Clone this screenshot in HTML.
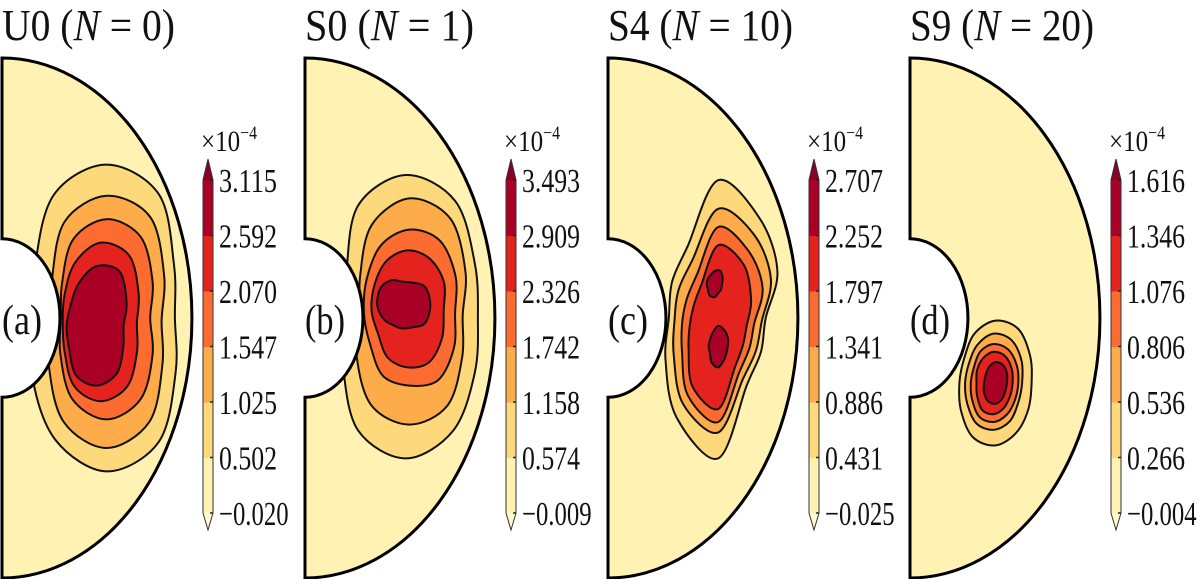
<!DOCTYPE html>
<html><head><meta charset="utf-8"><style>
html,body{margin:0;padding:0;background:#fff;}
svg{display:block;}
text{font-family:"Liberation Serif","Times New Roman","DejaVu Serif",serif;fill:#111;}
</style></head><body>
<svg id="fig" width="1200" height="579" viewBox="0 0 1200 579" xmlns="http://www.w3.org/2000/svg"></svg>
<script>
// ---- data ----
const panelIds = ["U0","S0","S4","S9"];
const panelN = ["0","1","10","20"];
const panelLetters = ["(a)","(b)","(c)","(d)"];
const tickLabelsA = ["\u22120.020","0.502","1.025","1.547","2.070","2.592","3.115"];
const tickLabelsB = ["\u22120.009","0.574","1.158","1.742","2.326","2.909","3.493"];
const tickLabelsC = ["\u22120.025","0.431","0.886","1.341","1.797","2.252","2.707"];
const tickLabelsD = ["\u22120.004","0.266","0.536","0.806","1.076","1.346","1.616"];
// contour polygons: level index, center [s, z] and radii at 0,30,...,330 degrees (data units)
const contourLevelsA = [1,2,3,4,5];
const contourCentersA = [[0.55,0.0],[0.55,-0.01],[0.55,0.0],[0.52,-0.02],[0.50,-0.03]];
const contourRadiiA = [
 [0.36,0.41,0.55,0.59,0.55,0.43,0.37,0.45,0.54,0.59,0.55,0.42],
 [0.29,0.35,0.46,0.48,0.44,0.33,0.29,0.35,0.45,0.49,0.45,0.34],
 [0.23,0.28,0.36,0.38,0.35,0.27,0.24,0.28,0.36,0.39,0.36,0.28],
 [0.19,0.23,0.30,0.31,0.27,0.22,0.20,0.22,0.28,0.30,0.28,0.22],
 [0.14,0.18,0.24,0.23,0.19,0.16,0.16,0.17,0.22,0.23,0.21,0.16]];
const contourLevelsB = [1,2,3,4,5];
const contourCentersB = [[0.53,0.0],[0.55,0.01],[0.55,0.02],[0.54,0.03],[0.51,0.05]];
const contourRadiiB = [
 [0.38,0.42,0.52,0.55,0.50,0.36,0.32,0.38,0.50,0.54,0.50,0.42],
 [0.28,0.34,0.43,0.45,0.40,0.30,0.26,0.32,0.40,0.42,0.40,0.32],
 [0.24,0.28,0.32,0.32,0.30,0.26,0.24,0.24,0.28,0.28,0.30,0.27],
 [0.19,0.22,0.23,0.23,0.22,0.20,0.19,0.18,0.21,0.22,0.23,0.21],
 [0.15,0.14,0.10,0.09,0.11,0.13,0.13,0.11,0.09,0.09,0.10,0.14]];
const contourLevelsC = [1,2,3,4,5,5];
const contourCentersC = [[0.58,0.0],[0.58,-0.01],[0.58,-0.02],[0.58,-0.03],[0.56,0.13],[0.58,-0.11]];
const contourRadiiC = [
 [0.25,0.36,0.44,0.53,0.32,0.28,0.26,0.32,0.44,0.54,0.30,0.26],
 [0.23,0.32,0.38,0.43,0.27,0.24,0.23,0.27,0.37,0.43,0.26,0.23],
 [0.19,0.27,0.32,0.37,0.22,0.19,0.19,0.22,0.32,0.38,0.22,0.19],
 [0.15,0.20,0.27,0.31,0.18,0.15,0.15,0.18,0.27,0.32,0.18,0.15],
 [0.04,0.05,0.06,0.05,0.04,0.04,0.04,0.04,0.05,0.05,0.04,0.04],
 [0.05,0.06,0.07,0.08,0.06,0.05,0.05,0.05,0.07,0.08,0.06,0.05]];
const contourLevelsD = [1,2,3,4,5];
const contourCentersD = [[0.45,-0.25],[0.44,-0.25],[0.44,-0.25],[0.44,-0.25],[0.45,-0.25]];
const contourRadiiD = [
 [0.19,0.21,0.24,0.24,0.22,0.19,0.19,0.21,0.24,0.24,0.22,0.20],
 [0.15,0.17,0.19,0.19,0.17,0.15,0.15,0.16,0.18,0.18,0.17,0.15],
 [0.13,0.14,0.15,0.15,0.14,0.12,0.12,0.13,0.15,0.15,0.14,0.13],
 [0.10,0.11,0.12,0.12,0.11,0.10,0.09,0.10,0.12,0.12,0.11,0.10],
 [0.06,0.07,0.08,0.08,0.07,0.06,0.06,0.07,0.08,0.08,0.07,0.06]];
const innerRadius = 0.305;

// ---- style / layout ----
const bandColors = ["#fff2b3","#fed97c","#feab4a","#fc6c31","#e4221e","#ab0026"];
const topTriColor = "#8a0026", botTriColor = "#fffbd0";
const panelLeft = [2,305,608,910];
const titleWidth = [173,169,185,184];
const FONT = '"Liberation Serif","Times New Roman","DejaVu Serif",serif';
const CY = 318, RX = 190, RY = 260;
const NS = "http://www.w3.org/2000/svg";
const svg = document.getElementById('fig');
function el(tag, attrs, parent){const e=document.createElementNS(NS,tag);for(const k in attrs)e.setAttribute(k,attrs[k]);(parent||svg).appendChild(e);return e;}
function sx(L,s){return L+s*RX;}
function sz(z){return CY-z*RY;}
function smoothPath(pts){
  const n=pts.length;let d=`M${pts[0][0].toFixed(1)},${pts[0][1].toFixed(1)}`;
  for(let i=0;i<n;i++){const p0=pts[(i-1+n)%n],p1=pts[i],p2=pts[(i+1)%n],p3=pts[(i+2)%n];
    const c1=[p1[0]+(p2[0]-p0[0])/6,p1[1]+(p2[1]-p0[1])/6],c2=[p2[0]-(p3[0]-p1[0])/6,p2[1]-(p3[1]-p1[1])/6];
    d+=`C${c1[0].toFixed(1)},${c1[1].toFixed(1)} ${c2[0].toFixed(1)},${c2[1].toFixed(1)} ${p2[0].toFixed(1)},${p2[1].toFixed(1)}`;}
  return d+'Z';}

const allLevels=[contourLevelsA,contourLevelsB,contourLevelsC,contourLevelsD];
const allCenters=[contourCentersA,contourCentersB,contourCentersC,contourCentersD];
const allRadii=[contourRadiiA,contourRadiiB,contourRadiiC,contourRadiiD];
const allTicks=[tickLabelsA,tickLabelsB,tickLabelsC,tickLabelsD];
const defs=el('defs',{});

for(let p=0;p<4;p++){
  const L=panelLeft[p];
  const g=el('g',{});
  
  
  const t=el('text',{x:L,y:40,'font-size':44,'font-family':FONT,textLength:titleWidth[p],lengthAdjust:'spacingAndGlyphs'},g);
  
  
  t.appendChild(document.createTextNode(panelIds[p]+' ('));
  const ts=el('tspan',{'font-style':'italic'},t);ts.textContent='N';
  t.appendChild(document.createTextNode(' = '+panelN[p]+')'));
  const iry=innerRadius*RY, irx=innerRadius*RX;
  const ann=`M${L},${CY-RY} A${RX},${RY} 0 0 1 ${L},${CY+RY} L${L},${CY+iry} A${irx},${iry} 0 0 0 ${L},${CY-iry} Z`;
  const cp=el('clipPath',{id:'clip'+p},defs);el('path',{d:ann},cp);
  const bg=el('path',{d:ann,fill:bandColors[0]},g);
  
  
  const cg=el('g',{'clip-path':`url(#clip${p})`},g);
  const lv=allLevels[p],ce=allCenters[p],ra=allRadii[p];
  for(let i=0;i<lv.length;i++){
    const pts=ra[i].map((r,k)=>{const a=k*Math.PI/6;return [sx(L,ce[i][0]+r*Math.cos(a)),sz(ce[i][1]+r*Math.sin(a))];});
    const c=el('path',{d:smoothPath(pts),fill:bandColors[lv[i]],stroke:'#111','stroke-width':2},cg);
    
    
  }
  const ol=el('path',{d:ann,fill:'none',stroke:'#000','stroke-width':3},g);
  
  
  const lt=el('text',{x:L,y:334,'font-size':42,'font-family':FONT,textLength:40,lengthAdjust:'spacingAndGlyphs'},g);
  lt.textContent=panelLetters[p];
  
  
  const cb=el('g',{},g);
  
  
  const bx=L+201,bw=10,yTop=180,yBot=513,ticks=allTicks[p],nb=ticks.length-1,step=(yBot-yTop)/nb;
  for(let b=0;b<nb;b++){
    const r=el('rect',{x:bx,y:yBot-(b+1)*step,width:bw,height:step+0.5,fill:bandColors[b]},cb);
    
    
  }
  el('path',{d:`M${bx},${yTop} L${bx+bw/2},${yTop-21} L${bx+bw},${yTop} Z`,fill:topTriColor},cb);
  el('path',{d:`M${bx},${yBot} L${bx+bw/2},${yBot+17} L${bx+bw},${yBot} Z`,fill:botTriColor},cb);
  el('path',{d:`M${bx},${yTop} L${bx+bw/2},${yTop-21} L${bx+bw},${yTop} L${bx+bw},${yBot} L${bx+bw/2},${yBot+17} L${bx},${yBot} Z`,fill:'none',stroke:'#333','stroke-width':1},cb);
  for(let k=0;k<ticks.length;k++){
    const y=yBot-k*step;
    el('line',{x1:bx+bw-3,x2:bx+bw,y1:y,y2:y,stroke:'#222','stroke-width':1.5},cb);
    const tl=el('text',{x:bx+bw+6,y:y+12,'font-size':34,'font-family':FONT,textLength:ticks[k].length*11.6,lengthAdjust:'spacingAndGlyphs'},cb);
    tl.textContent=ticks[k];
    
    
  }
  const ex=el('text',{x:bx-2,y:151,'font-size':30,'font-family':FONT,textLength:56,lengthAdjust:'spacingAndGlyphs'},cb);
  
  
  ex.appendChild(document.createTextNode('\u00d710'));
  const sup=el('tspan',{'font-size':19,dy:-12},ex);sup.textContent='\u22124';
}
</script>
</body></html>
